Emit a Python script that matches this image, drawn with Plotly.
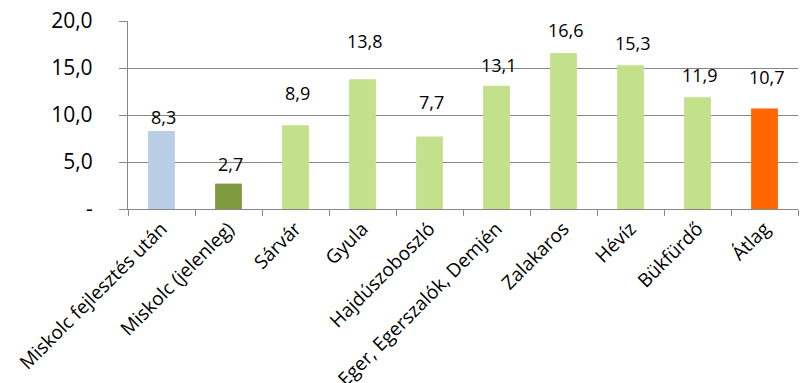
import plotly.graph_objects as go

categories = ["Miskolc fejlesztés után", "Miskolc (jelenleg)", "Sárvár", "Gyula",
              "Hajdúszoboszló", "Eger, Egerszalók, Demjén", "Zalakaros", "Hévíz",
              "Bükfürdő", "Átlag"]
values = [8.3, 2.7, 8.9, 13.8, 7.7, 13.1, 16.6, 15.3, 11.9, 10.7]
value_labels = ["8,3", "2,7", "8,9", "13,8", "7,7", "13,1", "16,6", "15,3", "11,9", "10,7"]
y_tickvals = [0, 5, 10, 15, 20]
y_ticktext = ["-", "5,0", "10,0", "15,0", "20,0"]

bar_colors = ["#B9CDE5", "#7F9A3F", "#C3E08A", "#C3E08A", "#C3E08A", "#C3E08A",
              "#C3E08A", "#C3E08A", "#C3E08A", "#FF6600"]
label_shift = [14, 20, 32, 38, 35, 21, 23, 22, 22, 31]

FONT = "Open Sans"

fig = go.Figure()
fig.add_trace(go.Bar(x=categories, y=values, marker_color=bar_colors,
                     marker_line_width=0, width=0.4, hoverinfo="skip"))

for c, v, t, s in zip(categories, values, value_labels, label_shift):
    fig.add_annotation(x=c, y=v, text=t, showarrow=False, yanchor="middle",
                       yshift=s, xshift=2,
                       font=dict(family=FONT, size=18, color="#000"))

fig.update_layout(
    width=806, height=383,
    margin=dict(l=127.7, r=7.7, t=20.7, b=173.7),
    plot_bgcolor="white", paper_bgcolor="white",
    showlegend=False, bargap=0.6,
    xaxis=dict(type="category", tickson="boundaries", ticks="outside", ticklen=6,
               tickcolor="#888", tickwidth=1.3, showline=True, linecolor="#888",
               linewidth=1.3, showgrid=False, tickangle=-45, automargin=False,
               tickfont=dict(family=FONT, size=19, color="#000")),
    yaxis=dict(range=[0, 20], tickvals=y_tickvals, ticktext=y_ticktext,
               ticks="outside", ticklen=8, tickcolor="#888", tickwidth=1.3,
               showline=True, linecolor="#888", linewidth=1.3, automargin=False,
               showgrid=True, gridcolor="#888", gridwidth=1.3, zeroline=False,
               ticklabelstandoff=22,
               tickfont=dict(family=FONT, size=21, color="#000")),
)

fig.write_html("out.html", config={"displayModeBar": False},
               post_script="document.body.style.margin='0';document.body.style.overflow='hidden';")
